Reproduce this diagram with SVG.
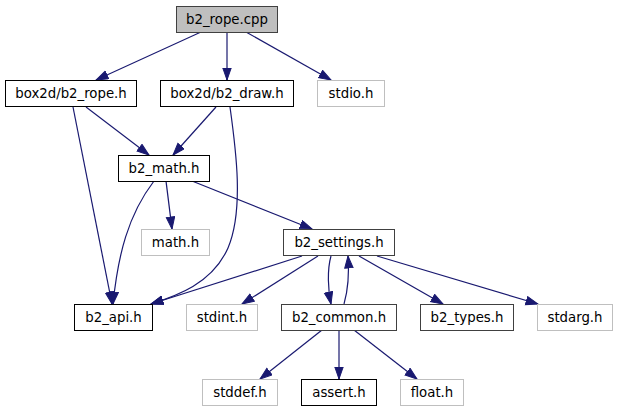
<svg xmlns="http://www.w3.org/2000/svg" width="617" height="411" viewBox="0 0 617 411">
<defs>
<style>
.n rect{fill:#fff;stroke:#000;stroke-width:1}
.n.g rect{stroke:#bfbfbf}
.n.d rect{stroke:#404040}
.n.root rect{fill:#bfbfbf;stroke:#404040}
.n text{font-family:"DejaVu Sans",sans-serif;font-size:13.3px;fill:#000;text-anchor:middle}
.e path{fill:none;stroke:#191970;stroke-width:1.2;marker-end:url(#ah)}
</style>
<marker id="ah" markerUnits="userSpaceOnUse" markerWidth="14" markerHeight="11" refX="12.5" refY="4.7" orient="auto">
<path d="M0.5,0.5 L12.5,4.7 L0.5,8.9 z" fill="#191970" stroke="#191970" stroke-width="1"/>
</marker>
</defs>
<rect width="617" height="411" fill="#fff"/>
<g id="edges" class="e">
<path d="M201,32 L96,80"/>
<path d="M227,32 L227,80"/>
<path d="M246,32 L331,80"/>
<path d="M86,107 L149,155"/>
<path d="M73,107 L112,304"/>
<path d="M216,107 L173,155"/>
<path d="M230,107 C236,150 244,210 228,248 C212,284 176,296 151,304"/>
<path d="M166,181 L172,229"/>
<path d="M192,181 L312,229"/>
<path d="M154,181 C128,215 118,255 113,304"/>
<path d="M302,256 L151,304"/>
<path d="M318,256 L242,304"/>
<path d="M331,256 C327,270 328,290 331,304"/>
<path d="M344,304 C348,290 349,270 348,256"/>
<path d="M359,256 L443,304"/>
<path d="M377,256 L538,304"/>
<path d="M322,330 L260,379"/>
<path d="M339,330 L339,379"/>
<path d="M354,330 L417,379"/>
</g>
<g id="n_b2_rope_cpp" class="n root"><rect x="176.5" y="6.5" width="101" height="26"/><text x="227" y="23.5">b2_rope.cpp</text></g>
<g id="n_b2_rope_h" class="n"><rect x="5.5" y="80.5" width="131" height="26"/><text x="71" y="97.5">box2d/b2_rope.h</text></g>
<g id="n_b2_draw_h" class="n"><rect x="160.5" y="80.5" width="133" height="26"/><text x="227" y="97.5">box2d/b2_draw.h</text></g>
<g id="n_stdio_h" class="n g"><rect x="317.5" y="80.5" width="67" height="26"/><text x="351" y="97.5">stdio.h</text></g>
<g id="n_b2_math_h" class="n"><rect x="118.5" y="155.5" width="91" height="26"/><text x="164" y="172.5">b2_math.h</text></g>
<g id="n_math_h" class="n g"><rect x="141.5" y="229.5" width="68" height="26"/><text x="175.5" y="246.5">math.h</text></g>
<g id="n_b2_settings_h" class="n d"><rect x="283.5" y="229.5" width="111" height="26"/><text x="339" y="246.5">b2_settings.h</text></g>
<g id="n_b2_api_h" class="n"><rect x="74.5" y="304.5" width="78" height="26"/><text x="113.5" y="321.5">b2_api.h</text></g>
<g id="n_stdint_h" class="n g"><rect x="186.5" y="304.5" width="71" height="26"/><text x="222" y="321.5">stdint.h</text></g>
<g id="n_b2_common_h" class="n d"><rect x="281.5" y="304.5" width="115" height="26"/><text x="339" y="321.5">b2_common.h</text></g>
<g id="n_b2_types_h" class="n d"><rect x="420.5" y="304.5" width="93" height="26"/><text x="467" y="321.5">b2_types.h</text></g>
<g id="n_stdarg_h" class="n g"><rect x="537.5" y="304.5" width="75" height="26"/><text x="575" y="321.5">stdarg.h</text></g>
<g id="n_stddef_h" class="n g"><rect x="202.5" y="379.5" width="75" height="26"/><text x="240" y="396.5">stddef.h</text></g>
<g id="n_assert_h" class="n"><rect x="301.5" y="379.5" width="75" height="26"/><text x="339" y="396.5">assert.h</text></g>
<g id="n_float_h" class="n g"><rect x="400.5" y="379.5" width="63" height="26"/><text x="432" y="396.5">float.h</text></g>
</svg>
